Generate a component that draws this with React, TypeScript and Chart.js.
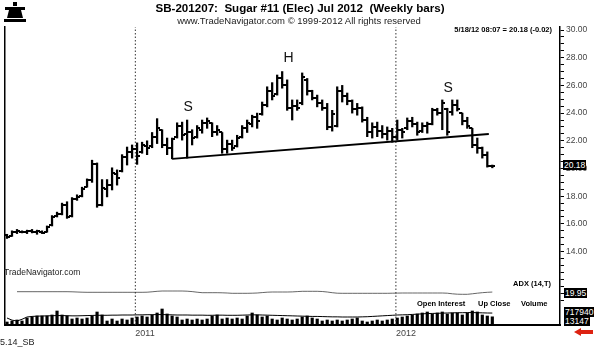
import React, { useEffect, useRef } from 'react';
import { Chart, registerables } from 'chart.js';
Chart.register(...registerables);

const FONT = '"Liberation Sans", Arial, Helvetica, sans-serif';

// Weekly OHLC, Jul 2010 .. 18 May 2012 (98 bars)
const lows = [14.95,15.10,15.30,15.35,15.30,15.35,15.25,15.30,15.40,15.85, 16.50,16.65,16.40,16.50,17.70,17.95,18.65,19.00,17.20,17.30, 17.95,18.45,18.80,19.75,20.25,20.75,20.30,21.10,21.00,21.50, 21.80,21.50,21.00,20.70,22.20,22.05,20.75,21.70,22.20,22.55, 22.90,22.30,22.40,21.10,21.10,21.30,21.55,22.20,22.60,23.00, 22.90,23.85,24.45,24.95,25.30,25.80,24.20,23.50,24.20,24.60, 25.30,24.95,24.45,24.20,22.80,22.70,23.00,24.80,24.60,24.00, 23.85,23.35,22.30,22.20,22.30,22.20,22.05,21.90,22.05,22.20, 22.80,23.00,22.40,22.60,22.55,23.15,23.85,22.80,22.40,23.85, 24.15,23.15,22.90,21.50,21.10,20.75,20.10,20.05];
const highs = [15.25,15.50,15.60,15.50,15.55,15.60,15.55,15.50,15.85,16.60, 16.85,17.50,17.60,17.90,18.10,18.65,19.25,20.60,20.40,19.20, 19.20,20.05,19.90,21.00,21.55,21.70,21.85,21.90,22.00,22.60, 23.60,22.80,22.20,22.20,23.30,23.35,23.50,22.80,23.10,23.50, 23.65,23.30,23.10,22.60,22.05,22.05,22.40,23.10,23.50,23.85, 24.00,24.80,25.90,26.20,26.75,27.00,26.40,24.95,24.95,26.90, 26.50,25.65,25.30,24.95,24.70,24.20,25.90,26.00,25.45,24.95, 24.70,24.45,23.70,23.30,23.35,23.10,23.00,22.90,23.50,22.90, 23.65,23.70,23.35,23.30,23.35,24.35,24.35,24.95,24.35,24.95, 24.95,24.00,23.70,22.90,22.20,21.55,21.20,20.25];
const opens = [15.20,15.15,15.45,15.45,15.40,15.50,15.40,15.45,15.45,15.90, 16.55,16.70,17.40,16.55,17.80,18.00,18.70,19.20,20.30,17.40, 18.50,18.80,19.60,19.80,20.80,21.20,21.40,21.20,21.60,21.60, 22.30,22.80,21.70,21.50,22.30,23.10,22.50,22.60,22.30,22.80, 23.30,23.30,22.60,22.60,21.40,21.80,21.60,22.30,22.90,23.20, 23.70,23.90,24.60,25.60,25.40,26.50,26.00,24.40,24.50,24.70, 26.40,25.60,25.10,24.70,24.40,23.00,23.10,25.60,25.20,24.90, 24.30,24.40,23.50,22.60,23.00,22.70,22.50,22.70,22.30,22.80, 22.90,23.40,23.20,22.70,23.10,23.20,24.20,24.00,24.30,24.10, 24.60,24.00,23.40,22.90,21.70,21.50,21.00,20.20];
const closes = [15.05,15.45,15.50,15.40,15.50,15.40,15.50,15.35,15.80,16.50, 16.70,17.40,16.50,17.80,17.95,18.55,19.15,20.30,17.40,18.60, 18.80,19.70,19.30,20.80,21.20,21.40,20.90,21.70,21.50,22.30, 22.90,21.70,21.50,22.10,23.10,22.40,22.60,22.20,22.90,23.30, 23.40,22.60,22.80,21.40,21.80,21.50,22.20,22.90,23.30,23.70, 23.40,24.60,25.60,25.20,26.50,26.00,24.40,24.50,24.40,26.60, 25.60,25.10,24.70,24.40,23.00,23.90,25.60,25.20,24.90,24.30, 24.40,23.50,22.60,23.00,22.70,22.50,22.70,22.30,22.80,22.60, 23.40,23.20,22.60,23.10,23.20,24.20,24.00,24.70,22.60,24.60, 24.30,23.40,23.10,21.70,21.50,21.00,20.20,20.18];

// Volume (thousands of contracts)
const volumes = [4.8,6.4,8.0,6.4,11.2,12.8,14.4,14.4,14.4,16.0, 22.4,16.0,14.4,9.6,11.2,9.6,11.2,14.4,20.8,16.0, 6.4,9.6,6.4,9.6,8.0,11.2,12.8,14.4,12.8,16.0, 19.2,25.6,17.6,14.4,12.8,8.0,9.6,8.0,9.6,8.0, 9.6,14.4,16.0,9.6,11.2,9.6,11.2,9.6,14.4,19.2, 16.0,12.8,14.4,9.6,8.0,11.2,9.6,8.0,9.6,12.8, 14.4,11.2,9.6,6.4,8.0,6.4,8.0,6.4,8.0,9.6, 11.2,6.4,4.8,6.4,8.0,6.4,8.0,9.6,11.2,12.8, 14.4,16.0,17.6,19.2,20.8,17.6,19.2,20.8,17.6,19.2, 19.2,16.0,19.2,22.4,20.8,16.0,14.4,13.1];
// Open interest (thousands)
const openInterest = [545,470,440,500,580,600,610,615,620,625, 630,630,625,620,620,625,630,635,640,640, 640,645,645,650,650,650,655,655,660,660, 665,665,660,655,650,650,650,645,645,645, 640,640,645,645,640,640,640,645,650,655, 655,650,645,640,635,630,625,620,615,610, 605,600,600,595,590,585,585,580,580,580, 580,585,590,600,610,620,630,640,650,655, 660,670,680,690,700,705,710,715,720,725, 730,730,735,735,730,725,720,717.94];
// ADX (14)
const adx = [null,null,20.3,20.3,20.3,20.3,20.3,20.3,20.3,20.3, 20.3,20.3,20.3,20.2,20.0,19.8,19.7,19.7,19.7,19.7, 19.7,19.7,19.7,19.7,19.7,19.7,19.7,19.7,19.8,20.2, 20.7,21.0,21.0,21.0,21.0,21.0,20.8,20.4,19.8,19.3, 19.3,19.3,19.3,19.2,19.0,18.7,18.7,18.7,18.7,18.8, 19.0,19.4,19.8,20.0,20.0,20.0,20.0,20.1,20.4,20.7, 20.7,20.7,20.7,20.5,20.0,19.3,18.8,18.7,18.7,18.7, 18.7,18.7,18.7,18.7,18.7,18.7,18.7,18.8,18.9,19.0, 19.0,19.0,19.0,19.0,19.0,19.0,19.0,19.0,18.8,18.2, 17.8,17.7,17.7,18.2,18.8,19.3,19.7,19.95];

const yearTickIndex = [25.65, 77.73];
const yearLabels = ['2011', '2012'];
const necklineIndex = [33, 96.3];
const necklinePrice = [20.69, 22.49];
const patternLabels = ['S', 'H', 'S'];
const patternIndex = [36.2, 56.3, 88.2];
const patternPrice = [24.44, 27.96, 25.81];

const priceMin = 8.7;
const priceMax = 30.217;
const priceLabelFrom = 14;
const priceMinorFrom = 10.5;
const priceTickTo = 30;
const xMin = -0.4;
const xMax = 110.53;
const volumeAxisMax = 476.8;
const oiAxisMin = 300;
const oiAxisMax = 10730;
const adxAxisMin = -13;
const adxAxisMax = 285;

const abs = (o: any): any => ({ position: 'absolute', ...o });

export default function App() {
  const ref = useRef<HTMLCanvasElement>(null);
  useEffect(() => {
    const canvas = ref.current!;
    const mkTick = (left: boolean) => {
      const c = document.createElement('canvas');
      c.width = 6;
      c.height = 2;
      const g = c.getContext('2d')!;
      g.fillStyle = '#000';
      g.fillRect(left ? 0 : 3, 0, 3, 2);
      return c;
    };
    const labelsPlugin = {
      id: 'hsLabels',
      afterDatasetsDraw(chart: any) {
        const { ctx, scales } = chart;
        ctx.save();
        ctx.font = `14px ${FONT}`;
        ctx.fillStyle = '#111';
        ctx.textAlign = 'center';
        ctx.textBaseline = 'middle';
        patternLabels.forEach((t, k) => {
          ctx.fillText(t, scales.x.getPixelForValue(patternIndex[k]), scales.y.getPixelForValue(patternPrice[k]));
        });
        ctx.restore();
      },
    };
    const vline = (v: number) => ({
      type: 'line', data: [{ x: v, y: priceMin }, { x: v, y: priceMax }], yAxisID: 'y',
      borderColor: '#333', borderWidth: 1, borderDash: [1.5, 2], pointRadius: 0,
    });
    const chart = new Chart(canvas, {
      type: 'bar',
      data: {
        datasets: [
          { type: 'bar', data: highs.map((h, i) => ({ x: i, y: [lows[i], h] })), yAxisID: 'y', backgroundColor: '#000', barThickness: 1.6, grouped: false, borderWidth: 0 },
          { type: 'line', data: opens.map((o, i) => ({ x: i, y: o })), yAxisID: 'y', showLine: false, pointStyle: mkTick(true), pointRadius: 3 },
          { type: 'line', data: closes.map((c, i) => ({ x: i, y: c })), yAxisID: 'y', showLine: false, pointStyle: mkTick(false), pointRadius: 3 },
          { type: 'line', data: necklineIndex.map((x, k) => ({ x, y: necklinePrice[k] })), yAxisID: 'y', borderColor: '#000', borderWidth: 1.8, pointRadius: 0 },
          vline(yearTickIndex[0]),
          vline(yearTickIndex[1]),
          { type: 'bar', data: volumes.map((v, i) => ({ x: i, y: v })), yAxisID: 'yv', backgroundColor: '#000', barThickness: 2.5, grouped: false, borderWidth: 0 },
          { type: 'line', data: openInterest.map((v, i) => ({ x: i, y: v })), yAxisID: 'yo', borderColor: '#000', borderWidth: 1, pointRadius: 0 },
          { type: 'line', data: adx.map((v, i) => ({ x: i, y: v })), yAxisID: 'ya', borderColor: '#666', borderWidth: 1, pointRadius: 0 },
        ] as any,
      },
      options: {
        responsive: false,
        animation: false,
        devicePixelRatio: 1,
        layout: { padding: { top: 27, left: 0, right: 0, bottom: 0 } },
        plugins: { legend: { display: false }, tooltip: { enabled: false }, title: { display: false } },
        scales: {
          x: {
            type: 'linear', min: xMin, max: xMax, offset: false, position: 'bottom',
            grid: { display: false, drawTicks: false, tickLength: 0 },
            border: { display: true, color: '#000', width: 2 },
            afterBuildTicks: (s: any) => { s.ticks = yearTickIndex.map((v) => ({ value: v })); },
            afterFit: (s: any) => { s.height = 24; },
            ticks: {
              autoSkip: false, maxRotation: 0, align: 'start', padding: 3, color: '#444',
              font: { family: FONT, size: 9 },
              callback: (v: any) => { const k = yearTickIndex.indexOf(Number(v)); return k >= 0 ? yearLabels[k] : ''; },
            },
          },
          y: {
            type: 'linear', position: 'right', min: priceMin, max: priceMax,
            grid: { drawOnChartArea: false, drawTicks: true, tickLength: 4, color: '#000', tickColor: '#000' },
            border: { display: true, color: '#000', width: 1.5 },
            afterBuildTicks: (s: any) => {
              const t: any[] = [];
              for (let v = priceMinorFrom; v <= priceTickTo + 1e-6; v += 0.5) t.push({ value: Math.round(v * 2) / 2 });
              s.ticks = t;
            },
            afterFit: (s: any) => { s.width = 40; },
            ticks: {
              autoSkip: false, padding: 2, color: '#444', font: { family: FONT, size: 8.5 },
              callback: (v: any) => { const n = Number(v); return n >= priceLabelFrom && Math.abs(n % 2) < 1e-9 ? n.toFixed(2) : ''; },
            },
          },
          yl: {
            type: 'linear', position: 'left', min: 0, max: 1,
            grid: { display: false }, ticks: { display: false },
            border: { display: true, color: '#000', width: 1.5 },
            afterFit: (s: any) => { s.width = 2; },
          },
          yv: { type: 'linear', display: false, min: 0, max: volumeAxisMax },
          yo: { type: 'linear', display: false, min: oiAxisMin, max: oiAxisMax },
          ya: { type: 'linear', display: false, min: adxAxisMin, max: adxAxisMax },
        } as any,
      },
      plugins: [labelsPlugin],
    } as any);
    return () => chart.destroy();
  }, []);

  const box = (left: number, top: number, text: string) => (
    <div style={abs({ left, top, height: 10, lineHeight: '10px', padding: '0 1px', background: '#000', color: '#fff', fontSize: 8.5 })}>{text}</div>
  );

  return (
    <div style={abs({ left: 0, top: 0, width: 600, height: 349, background: '#fff', overflow: 'hidden', fontFamily: FONT, color: '#000' })}>
      <canvas ref={ref} width={600} height={349} style={abs({ left: 0, top: 0 })} />
      <svg style={abs({ left: 3, top: 2 })} width={24} height={22} viewBox="0 0 24 22">
        <rect x={10} y={0} width={4} height={4} fill="#000" />
        <rect x={2} y={5} width={20} height={3} fill="#000" />
        <polygon points="6,8 18,8 20,16 4,16" fill="#000" />
        <rect x={1} y={17} width={22} height={3} fill="#000" />
      </svg>
      <div style={abs({ left: 0, top: 1, width: 600, textAlign: 'center', fontSize: 11.6, fontWeight: 'bold', lineHeight: '13px', whiteSpace: 'pre' })}>
        {'SB-201207:  Sugar #11 (Elec) Jul 2012  (Weekly bars)'}
      </div>
      <div style={abs({ left: 0, top: 15, width: 598, textAlign: 'center', fontSize: 9.5, lineHeight: '11px', color: '#222' })}>
        www.TradeNavigator.com © 1999-2012 All rights reserved
      </div>
      <div style={abs({ right: 48, top: 25, fontSize: 7.5, fontWeight: 'bold', lineHeight: '9px', whiteSpace: 'pre' })}>
        {'5/18/12 08:07 = 20.18 (-0.02)'}
      </div>
      <div style={abs({ left: 4, top: 267, fontSize: 8.5, lineHeight: '10px', color: '#222' })}>TradeNavigator.com</div>
      <div style={abs({ right: 49, top: 279, fontSize: 7.5, fontWeight: 'bold', lineHeight: '9px' })}>ADX (14,T)</div>
      <div style={abs({ left: 417, top: 299, fontSize: 7.5, fontWeight: 'bold', lineHeight: '9px' })}>Open Interest</div>
      <div style={abs({ left: 478, top: 299, fontSize: 7.5, fontWeight: 'bold', lineHeight: '9px' })}>Up Close</div>
      <div style={abs({ left: 521, top: 299, fontSize: 7.5, fontWeight: 'bold', lineHeight: '9px' })}>Volume</div>
      {box(563, 160, '20.18')}
      {box(564, 288, '19.95')}
      {box(564, 307, '717940')}
      {box(564, 316, '13147')}
      <div style={abs({ left: 0, top: 337, fontSize: 9, lineHeight: '11px', color: '#222' })}>5.14_SB</div>
      <div style={abs({ left: 574, top: 328, width: 0, height: 0, borderTop: '4px solid transparent', borderBottom: '4px solid transparent', borderRight: '7px solid #d21' })} />
      <div style={abs({ left: 581, top: 330, width: 12, height: 4, background: '#d21' })} />
    </div>
  );
}
